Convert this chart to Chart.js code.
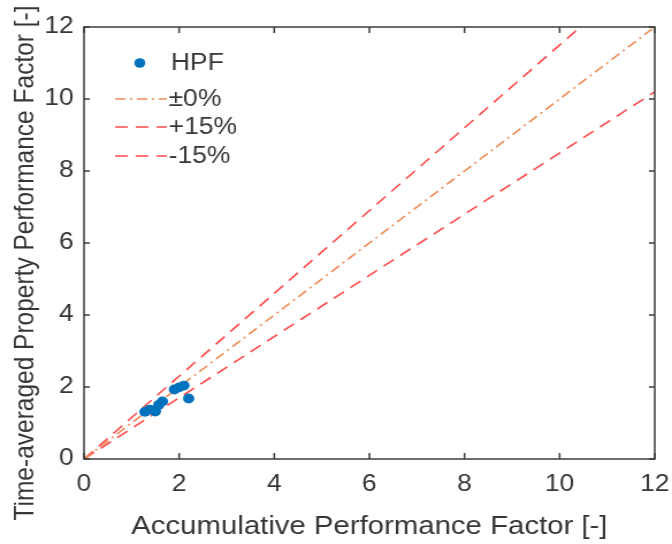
<!DOCTYPE html>
<html><head><meta charset="utf-8">
<script src="https://cdn.jsdelivr.net/npm/chart.js@4.4.1/dist/chart.umd.min.js"></script>
<style>html,body{margin:0;padding:0;background:#fff;overflow:hidden;}#c{width:672px;height:544px;display:block;}</style>
</head><body><canvas id="c" width="584" height="544" style="width:672px;height:544px"></canvas>
<script>
// Data
const hpfX = [1.28, 1.38, 1.50, 1.57, 1.65, 1.90, 2.00, 2.10, 2.20];
const hpfY = [1.31, 1.37, 1.32, 1.50, 1.60, 1.93, 1.99, 2.04, 1.68];
const refX = [0, 12];
const zeroY = [0, 12];
const plus15Y = [0, 13.8];
const minus15Y = [0, 10.2];
const tickValues = [0, 2, 4, 6, 8, 10, 12];
const seriesLabels = ['HPF', '\u00B10%', '+15%', '-15%'];
const xTitle = 'Accumulative Performance Factor [-]';
const yTitle = 'Time-averaged Property Performance Factor [-]';

const pts = (xs, ys) => xs.map((x, i) => ({x: x, y: ys[i]}));
const FONT = "'Liberation Sans', Arial, sans-serif";
const TXT = '#363636';
const AX = '#3c3c3c';

const boxPlugin = {
  id: 'box',
  afterDraw(chart) {
    const {ctx, chartArea: a, scales} = chart;
    ctx.save();
    ctx.strokeStyle = AX; ctx.lineWidth = 1.5;
    ctx.strokeRect(a.left, a.top, a.right - a.left, a.bottom - a.top);
    ctx.beginPath();
    tickValues.forEach(v => {
      const px = scales.x.getPixelForValue(v);
      ctx.moveTo(px, a.bottom); ctx.lineTo(px, a.bottom - 6);
      ctx.moveTo(px, a.top); ctx.lineTo(px, a.top + 6);
      const py = scales.y.getPixelForValue(v);
      ctx.moveTo(a.left, py); ctx.lineTo(a.left + 5, py);
      ctx.moveTo(a.right, py); ctx.lineTo(a.right - 5, py);
    });
    ctx.stroke();
    // y-axis title
    ctx.save();
    ctx.translate(22, 263);
    ctx.rotate(-Math.PI / 2);
    ctx.font = '24.5px ' + FONT;
    ctx.fillStyle = TXT;
    ctx.textAlign = 'center';
    ctx.textBaseline = 'middle';
    ctx.fillText(yTitle, 0, 0);
    ctx.restore();
    // legend (no box)
    const rows = [63, 99, 127, 156];
    ctx.font = '23px ' + FONT;
    ctx.textBaseline = 'middle';
    chart.data.datasets.forEach((ds, i) => {
      const y = rows[i];
      if (ds.showLine === false) {
        ctx.beginPath();
        ctx.fillStyle = ds.backgroundColor;
        ctx.arc(121.5, y, 4.8, 0, Math.PI * 2);
        ctx.fill();
        ctx.fillStyle = TXT;
        ctx.fillText(ds.label, 148.5, y + 1);
      } else {
        ctx.beginPath();
        ctx.strokeStyle = ds.borderColor;
        ctx.lineWidth = ds.borderWidth;
        ctx.setLineDash(ds.borderDash);
        ctx.moveTo(100, y); ctx.lineTo(145, y);
        ctx.stroke();
        ctx.setLineDash([]);
        ctx.fillStyle = TXT;
        ctx.fillText(ds.label, 146.5, y + 1);
      }
    });
    ctx.restore();
  }
};

new Chart(document.getElementById('c'), {
  type: 'scatter',
  data: {
    datasets: [
      {label: seriesLabels[0], data: pts(hpfX, hpfY), showLine: false,
       backgroundColor: '#0072BD', borderColor: '#0072BD', pointRadius: 4.9, pointBorderWidth: 0, order: 0},
      {label: seriesLabels[1], data: pts(refX, zeroY), showLine: true, pointRadius: 0,
       borderColor: '#EE8A55', borderWidth: 1.6, borderDash: [9, 4, 2, 4], order: 1},
      {label: seriesLabels[2], data: pts(refX, plus15Y), showLine: true, pointRadius: 0,
       borderColor: '#FF4A4A', borderWidth: 1.6, borderDash: [11, 7], order: 2},
      {label: seriesLabels[3], data: pts(refX, minus15Y), showLine: true, pointRadius: 0,
       borderColor: '#FF4A4A', borderWidth: 1.6, borderDash: [11, 7], order: 3}
    ]
  },
  options: {
    responsive: false, animation: false, devicePixelRatio: 1,
    layout: {padding: {top: 27, right: 15, left: 0, bottom: 0}},
    plugins: {legend: {display: false}, tooltip: {enabled: false}},
    scales: {
      x: {
        type: 'linear', min: 0, max: 12,
        afterBuildTicks: s => { s.ticks = tickValues.map(v => ({value: v})); },
        afterFit: s => { s.height = 85; s.paddingLeft = 0; s.paddingRight = 0; },
        grid: {display: false, drawTicks: false},
        border: {display: false},
        ticks: {color: TXT, font: {family: FONT, size: 23}, padding: 12, maxRotation: 0},
        title: {display: true, text: xTitle, color: TXT, font: {family: FONT, size: 25.5}, padding: {top: 0, bottom: 2}}
      },
      y: {
        type: 'linear', min: 0, max: 12,
        afterBuildTicks: s => { s.ticks = tickValues.map(v => ({value: v})); },
        afterFit: s => { s.width = 73; s.paddingTop = 0; s.paddingBottom = 0; },
        grid: {display: false, drawTicks: false},
        border: {display: false},
        ticks: {color: TXT, font: {family: FONT, size: 23}, padding: 9},
        title: {display: false}
      }
    }
  },
  plugins: [boxPlugin]
});
</script>
</body></html>
